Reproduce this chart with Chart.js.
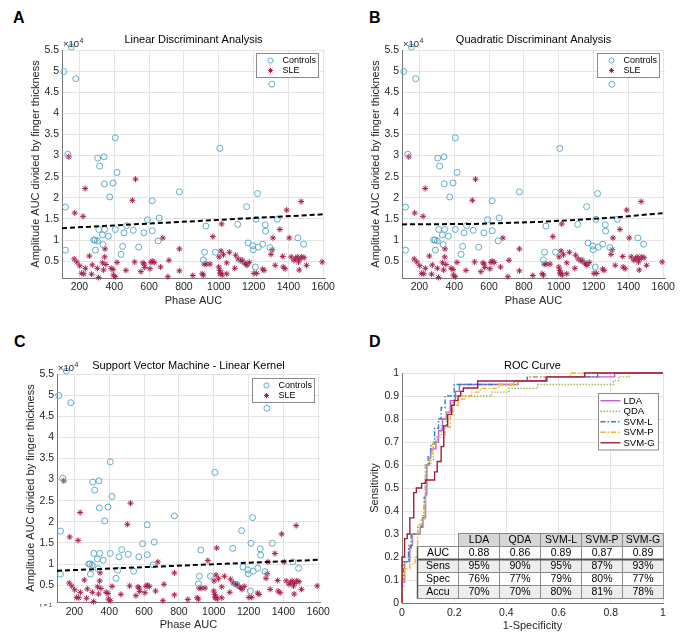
<!DOCTYPE html>
<html>
<head>
<meta charset="utf-8">
<script src="https://cdn.jsdelivr.net/npm/chart.js@4.4.1/dist/chart.umd.min.js"></script>
<style>
  body { margin: 0; width: 681px; height: 634px; position: relative; overflow: hidden; background: #fff; }
  canvas { position: absolute; }
  .tag { position: absolute; font: bold 16px "Liberation Sans", Arial, sans-serif; color: #000; line-height: 16px; }
</style>
</head>
<body>
<div class="tag" style="left:13px;top:10px">A</div>
<div class="tag" style="left:369px;top:10px">B</div>
<div class="tag" style="left:14px;top:334px">C</div>
<div class="tag" style="left:369px;top:334px">D</div>

<canvas id="chartA" width="340" height="315" style="left:0;top:0"></canvas>
<canvas id="chartB" width="341" height="315" style="left:340px;top:0"></canvas>
<canvas id="chartC" width="340" height="319" style="left:0;top:315px"></canvas>
<canvas id="chartD" width="341" height="319" style="left:340px;top:315px"></canvas>

<script>
/* ---------- scatter panels (A, B, C): same subjects, three classifiers ---------- */
const X_TICKS = [200, 400, 600, 800, 1000, 1200, 1400, 1600];
const X_TICK_LABELS = ["200", "400", "600", "800", "1000", "1200", "1400", "1600"];
const Y_TICKS = [0.5, 1, 1.5, 2, 2.5, 3, 3.5, 4, 4.5, 5, 5.5];
const Y_TICK_LABELS = ["0.5", "1", "1.5", "2", "2.5", "3", "3.5", "4", "4.5", "5", "5.5"];

// amplitude values are in units of 10^4
const CONTROLS_PHASE = [
  154, 110, 179, 1305, 406, 1006, 133, 305, 341, 316,
  416, 343, 393, 374, 120, 618, 774, 658, 591, 471,
  311, 345, 406, 332, 366, 456, 509, 570, 618, 652,
  282, 290, 303, 336, 120, 292, 448, 540, 439, 1223,
  1160, 926, 1109, 1214, 1267, 1269, 1336, 1454, 1487, 1168,
  1195, 1198, 1227, 1252, 1294, 918, 912, 981, 1132, 1210
];
const CONTROLS_AMP = [
  5.57, 4.99, 4.82, 4.69, 3.42, 3.17, 3.03, 2.94, 2.97, 2.75,
  2.60, 2.33, 2.35, 2.02, 1.78, 1.93, 2.14, 1.52, 1.48, 1.34,
  1.25, 1.25, 1.25, 1.12, 1.09, 1.17, 1.23, 1.17, 1.22, 0.98,
  1.00, 1.00, 0.98, 0.89, 0.76, 0.76, 0.85, 0.83, 0.66, 2.10,
  1.79, 1.33, 1.37, 1.49, 1.36, 1.21, 1.49, 1.05, 0.90, 0.93,
  0.86, 0.77, 0.83, 0.90, 0.82, 0.71, 0.53, 0.71, 0.52, 0.36
];
const SLE_PHASE = [
  139, 522, 233, 504, 173, 221, 679, 774, 347, 1473,
  1390, 1017, 966, 1351, 1405, 1311, 1300, 1307, 170, 185,
  257, 345, 333, 274, 202, 303, 382, 234, 339, 416,
  517, 565, 572, 611, 618, 666, 714, 774, 467, 213,
  270, 395, 406, 310, 553, 605, 708, 851, 352, 225,
  393, 575, 630, 905, 912, 916, 927, 950, 1000, 1005,
  1012, 1020, 1008, 1013, 1002, 1027, 1061, 1046, 1046, 1092,
  1097, 1112, 1125, 1135, 1148, 1155, 1162, 1175, 1202, 1218,
  1252, 1260, 1324, 1367, 1370, 1381, 1416, 1432, 1440, 1450,
  1458, 1465, 1476, 1490, 1462, 1504, 1594
];
const SLE_AMP = [
  2.97, 2.44, 2.22, 1.94, 1.64, 1.56, 1.05, 0.79, 0.79, 1.91,
  1.71, 1.38, 1.08, 1.25, 1.05, 1.05, 0.66, 0.77, 0.55, 0.48,
  0.62, 0.60, 0.46, 0.41, 0.39, 0.33, 0.33, 0.33, 0.29, 0.47,
  0.48, 0.46, 0.43, 0.47, 0.50, 0.36, 0.52, 0.27, 0.28, 0.21,
  0.19, 0.17, 0.13, 0.11, 0.25, 0.32, 0.13, 0.16, 0.42, 0.20,
  0.30, 0.35, 0.47, 0.20, 0.17, 0.43, 0.43, 0.43, 0.36, 0.28,
  0.22, 0.17, 0.20, 0.74, 0.60, 0.65, 0.71, 0.46, 0.20, 0.33,
  0.64, 0.55, 0.52, 0.50, 0.46, 0.43, 0.40, 0.47, 0.21, 0.21,
  0.31, 0.28, 0.40, 0.61, 0.36, 0.32, 0.60, 0.52, 0.55, 0.60,
  0.48, 0.55, 0.60, 0.58, 0.29, 0.40, 0.48
];

// decision boundaries
const LDA_LINE_PHASE = [100, 1610];
const LDA_LINE_AMP = [1.28, 1.61];
const QDA_LINE_PHASE = [100, 500, 900, 1280, 1610];
const QDA_LINE_AMP = [1.37, 1.38, 1.43, 1.52, 1.64];
const SVM_LINE_PHASE = [100, 1610];
const SVM_LINE_AMP = [0.84, 1.10];

/* ---------- ROC panel (D) ---------- */
const ROC_TICKS_X = [0, 0.2, 0.4, 0.6, 0.8, 1];
const ROC_TICK_LABELS_X = ["0", "0.2", "0.4", "0.6", "0.8", "1"];
const ROC_TICKS_Y = [0, 0.1, 0.2, 0.3, 0.4, 0.5, 0.6, 0.7, 0.8, 0.9, 1];
const ROC_TICK_LABELS_Y = ["0", "0.1", "0.2", "0.3", "0.4", "0.5", "0.6", "0.7", "0.8", "0.9", "1"];

// corner after each rise of the step curve (1-specificity, sensitivity)
const LDA_FPR = [0, 0, 0.01, 0.03, 0.04, 0.07, 0.08, 0.09, 0.095, 0.105, 0.11, 0.13, 0.14, 0.155, 0.17, 0.185, 0.205, 0.22, 0.445, 0.55, 0.815, 1];
const LDA_TPR = [0, 0.09, 0.18, 0.25, 0.30, 0.33, 0.37, 0.47, 0.60, 0.63, 0.67, 0.70, 0.75, 0.80, 0.83, 0.88, 0.92, 0.95, 0.967, 0.983, 1, 1];
const QDA_FPR = [0, 0, 0.01, 0.025, 0.04, 0.07, 0.08, 0.09, 0.095, 0.11, 0.12, 0.135, 0.15, 0.17, 0.19, 0.2, 0.343, 0.41, 0.52, 0.81, 0.83, 0.87, 1];
const QDA_TPR = [0, 0.10, 0.18, 0.25, 0.30, 0.33, 0.38, 0.50, 0.60, 0.62, 0.70, 0.73, 0.77, 0.83, 0.87, 0.90, 0.917, 0.933, 0.95, 0.967, 0.983, 1, 1];
const SVML_FPR = [0, 0, 0.005, 0.025, 0.035, 0.06, 0.075, 0.085, 0.09, 0.1, 0.11, 0.125, 0.14, 0.15, 0.165, 0.2, 0.43, 0.48, 0.75, 1];
const SVML_TPR = [0, 0.10, 0.18, 0.24, 0.30, 0.33, 0.37, 0.46, 0.60, 0.64, 0.69, 0.76, 0.80, 0.85, 0.90, 0.95, 0.967, 0.983, 1, 1];
const SVMP_FPR = [0, 0, 0.005, 0.01, 0.03, 0.05, 0.06, 0.075, 0.085, 0.09, 0.105, 0.115, 0.13, 0.165, 0.185, 0.195, 0.215, 0.24, 0.265, 0.3, 0.37, 0.445, 0.49, 0.645, 1];
const SVMP_TPR = [0, 0.07, 0.10, 0.15, 0.17, 0.20, 0.34, 0.36, 0.43, 0.60, 0.64, 0.69, 0.72, 0.765, 0.82, 0.86, 0.887, 0.90, 0.917, 0.933, 0.95, 0.967, 0.983, 1, 1];
const SVMG_FPR = [0, 0, 0.01, 0.02, 0.03, 0.045, 0.055, 0.075, 0.09, 0.125, 0.135, 0.15, 0.16, 0.175, 0.19, 0.2, 0.215, 0.225, 0.235, 0.29, 0.555, 0.7, 1];
const SVMG_TPR = [0, 0.20, 0.28, 0.30, 0.37, 0.48, 0.50, 0.52, 0.535, 0.57, 0.615, 0.68, 0.77, 0.82, 0.86, 0.88, 0.90, 0.92, 0.935, 0.965, 0.983, 1, 1];

const TABLE_COLS = ["LDA", "QDA", "SVM-L", "SVM-P", "SVM-G"];
const TABLE_ROWS = ["AUC", "Sens", "Spec", "Accu"];
const AUC_VALUES = ["0.88", "0.86", "0.89", "0.87", "0.89"];
const SENS_VALUES = ["95%", "90%", "95%", "87%", "93%"];
const SPEC_VALUES = ["76%", "77%", "79%", "80%", "77%"];
const ACCU_VALUES = ["70%", "70%", "80%", "81%", "78%"];

/* ---------- helpers & plugins ---------- */
const FONT = '"Liberation Sans", Arial, sans-serif';
const pts = (xs, ys) => xs.map((x, i) => ({ x, y: ys[i] }));

// MATLAB style legend box inside the axes
const boxLegend = {
  id: "boxLegend",
  afterDraw(chart, args, o) {
    if (!o || !o.display) return;
    const { ctx, chartArea } = chart;
    const items = chart.data.datasets.filter((d) => d.inLegend);
    const h = o.pad * 2 + items.length * o.rowHeight;
    const x0 = Math.round(chartArea.right - o.right - o.width) + 0.5;
    const y0 = Math.round(chartArea.top + o.top) + 0.5;
    ctx.save();
    ctx.fillStyle = "#fff";
    ctx.strokeStyle = "#8a8a8a";
    ctx.lineWidth = 1;
    ctx.fillRect(x0, y0, o.width, h);
    ctx.strokeRect(x0, y0, o.width, h);
    ctx.font = o.font;
    ctx.textBaseline = "middle";
    items.forEach((d, i) => {
      const cy = y0 + o.pad + (i + 0.5) * o.rowHeight;
      ctx.save();
      ctx.strokeStyle = d.borderColor;
      ctx.fillStyle = d.backgroundColor || "rgba(0,0,0,0)";
      ctx.lineWidth = d.borderWidth;
      if (o.kind === "line") {
        ctx.setLineDash(d.borderDash || []);
        ctx.beginPath();
        ctx.moveTo(x0 + o.sampleFrom, cy);
        ctx.lineTo(x0 + o.sampleTo, cy);
        ctx.stroke();
      } else {
        Chart.helpers.drawPoint(ctx, { pointStyle: d.pointStyle, radius: d.pointRadius * 0.85, borderWidth: d.borderWidth, rotation: 0 }, x0 + o.markerX, cy);
      }
      ctx.restore();
      ctx.fillStyle = "#000";
      ctx.fillText(d.label, x0 + o.textX, cy + 0.5);
    });
    ctx.restore();
  },
};

// "x10^4" exponent above the y axis, plus the small footnote of panel C
const axisNotes = {
  id: "axisNotes",
  afterDraw(chart, args, o) {
    if (!o || !o.exponent) return;
    const { ctx, chartArea } = chart;
    ctx.save();
    ctx.fillStyle = "#262626";
    ctx.textAlign = "left";
    ctx.textBaseline = "alphabetic";
    const bx = chartArea.left + 1;
    const by = chartArea.top - 3;
    ctx.font = `9.5px ${FONT}`;
    ctx.fillText("\u00d710", bx, by);
    const w = ctx.measureText("\u00d710").width;
    ctx.font = `7px ${FONT}`;
    ctx.fillText(o.exponent, bx + w + 0.5, by - 4);
    if (o.footnote) {
      ctx.font = `6px ${FONT}`;
      ctx.fillText(o.footnote, chartArea.left - 17, chartArea.bottom + 5);
    }
    ctx.restore();
  },
};

// performance table placed in axis units of the ROC plot
const rocTable = {
  id: "rocTable",
  afterDatasetsDraw(chart, args, o) {
    if (!o || !o.display) return;
    const { ctx } = chart;
    const sx = chart.scales.x, sy = chart.scales.y;
    const xl = Math.round(sx.getPixelForValue(o.labelLeft)) + 0.5;
    const xc = Math.round(sx.getPixelForValue(o.colLeft)) + 0.5;
    const xr = Math.round(sx.getPixelForValue(o.right)) + 0.5;
    const ry = o.rowEdges.map((v) => Math.round(sy.getPixelForValue(v)) + 0.5);
    const colW = (xr - xc) / TABLE_COLS.length;
    const cx = (i) => Math.round(xc + i * colW - 0.5) + 0.5;
    const body = [AUC_VALUES, SENS_VALUES, SPEC_VALUES, ACCU_VALUES];

    ctx.save();
    ctx.font = `10.5px ${FONT}`;
    ctx.textAlign = "center";
    ctx.textBaseline = "middle";
    ctx.lineWidth = 1;

    // header
    TABLE_COLS.forEach((name, i) => {
      ctx.fillStyle = "#d6d6d6";
      ctx.fillRect(cx(i), ry[0], cx(i + 1) - cx(i), ry[1] - ry[0]);
      ctx.strokeStyle = "#8c8c8c";
      ctx.strokeRect(cx(i), ry[0], cx(i + 1) - cx(i), ry[1] - ry[0]);
      ctx.fillStyle = "#000";
      ctx.fillText(name, (cx(i) + cx(i + 1)) / 2, (ry[0] + ry[1]) / 2 + 0.5);
    });

    // body rows
    TABLE_ROWS.forEach((label, r) => {
      const top = ry[r + 1], bot = ry[r + 2];
      ctx.fillStyle = r % 2 ? "#ededed" : "#ffffff";
      ctx.fillRect(xl, top, xr - xl, bot - top);
      ctx.strokeStyle = "#8c8c8c";
      ctx.strokeRect(xl, top, xc - xl, bot - top);
      for (let i = 0; i < TABLE_COLS.length; i++) ctx.strokeRect(cx(i), top, cx(i + 1) - cx(i), bot - top);
      ctx.fillStyle = "#000";
      ctx.fillText(label, (xl + xc) / 2, (top + bot) / 2 + 0.5);
      body[r].forEach((val, i) => ctx.fillText(val, (cx(i) + cx(i + 1)) / 2, (top + bot) / 2 + 0.5));
    });

    // darker rules
    ctx.strokeStyle = "#555";
    ctx.lineWidth = 2;
    ctx.beginPath();
    ctx.moveTo(xl, ry[2]);
    ctx.lineTo(xr, ry[2]);
    ctx.stroke();
    ctx.lineWidth = 1.5;
    ctx.beginPath();
    ctx.moveTo(xl, ry[1]);
    ctx.lineTo(xl, ry[ry.length - 1]);
    ctx.stroke();
    ctx.restore();
  },
};

Chart.register(boxLegend, axisNotes, rocTable);

function axis(L, ticks, labels, min, max, title, horizontal) {
  return {
    type: "linear",
    min,
    max,
    afterFit: (s) => { if (horizontal) s.height = L.xHeight; else s.width = L.yWidth; },
    afterBuildTicks: (s) => { s.ticks = ticks.map((value) => ({ value })); },
    ticks: {
      autoSkip: false,
      maxRotation: 0,
      padding: horizontal ? L.tickPadX : 3,
      color: "#262626",
      font: { family: FONT, size: 10.5 },
      callback: (v, i) => labels[i],
    },
    grid: { color: "#e4e4e4", lineWidth: 1, drawTicks: false },
    border: { display: true, color: "#7a7a7a", width: 1 },
    title: {
      display: true,
      text: title,
      color: "#262626",
      font: { family: FONT, size: 11 },
      padding: horizontal ? { top: 0, bottom: L.xTitlePad } : { top: L.yTitlePad, bottom: 0 },
    },
  };
}

function baseOptions(L, title) {
  return {
    responsive: false,
    animation: false,
    events: [],
    layout: { padding: { left: L.padLeft, right: L.padRight, top: 0, bottom: 0 } },
    plugins: {
      legend: { display: false },
      tooltip: { enabled: false },
      title: {
        display: true,
        fullSize: false, // centre over the axes, as MATLAB does
        text: title,
        color: "#000",
        font: { family: FONT, size: 11, weight: "normal" },
        padding: { top: L.titleTop, bottom: L.titleBottom },
      },
    },
  };
}

function scatterPanel(id, title, linePhase, lineAmp, L, legendInset, footnote) {
  const opts = baseOptions(L, title);
  opts.plugins.boxLegend = {
    display: true, kind: "marker", right: legendInset.right, top: legendInset.top,
    width: 62, pad: 2, rowHeight: 10, markerX: 14, textX: 26, font: `9px ${FONT}`,
  };
  opts.plugins.axisNotes = { exponent: "4", footnote };
  opts.scales = {
    x: axis(L, X_TICKS, X_TICK_LABELS, 100, 1610, "Phase AUC", true),
    y: axis(L, Y_TICKS, Y_TICK_LABELS, 0.1, 5.5, "Amplitude AUC divided by finger thickness", false),
  };
  return new Chart(document.getElementById(id), {
    type: "scatter",
    data: {
      datasets: [
        {
          label: "boundary", data: pts(linePhase, lineAmp), showLine: true,
          borderColor: "#000", borderWidth: 2, borderDash: [5, 3], pointRadius: 0, clip: false,
        },
        {
          label: "Controls", inLegend: true, data: pts(CONTROLS_PHASE, CONTROLS_AMP),
          pointStyle: "circle", pointRadius: 3, borderColor: "#5eaccb", backgroundColor: "rgba(0,0,0,0)",
          borderWidth: 1, clip: false,
        },
        {
          label: "SLE", inLegend: true, data: pts(SLE_PHASE, SLE_AMP),
          pointStyle: "star", pointRadius: 3, borderColor: "#a7224b", backgroundColor: "#a7224b",
          borderWidth: 1, clip: false,
        },
      ],
    },
    options: opts,
  });
}

/* ---------- build ---------- */
const LAYOUT_TOP = { padLeft: 22, padRight: 15, yWidth: 40, xHeight: 37, titleTop: 33.4, titleBottom: 3.4, tickPadX: 3, xTitlePad: 7.7, yTitlePad: 7.4 };

scatterPanel("chartA", "Linear Discriminant Analysis", LDA_LINE_PHASE, LDA_LINE_AMP,
  LAYOUT_TOP, { right: 7, top: 3 });
scatterPanel("chartB", "Quadratic Discriminant Analysis", QDA_LINE_PHASE, QDA_LINE_AMP,
  Object.assign({}, LAYOUT_TOP, { padRight: 16 }), { right: 6, top: 3 });
scatterPanel("chartC", "Support Vector Machine - Linear Kernel", SVM_LINE_PHASE, SVM_LINE_AMP,
  { padLeft: 17, padRight: 20, yWidth: 40, xHeight: 32, titleTop: 44.4, titleBottom: 1.4, tickPadX: 3.7, xTitlePad: 2.4, yTitlePad: 7.4 },
  { right: 6, top: 4 }, "r = 1");

(function buildRoc() {
  const L = { padLeft: 22, padRight: 18, yWidth: 40, xHeight: 31, titleTop: 44.8, titleBottom: 0, tickPadX: 3.7, xTitlePad: 1.4, yTitlePad: 6.4 };
  const opts = baseOptions(L, "ROC Curve");
  opts.plugins.boxLegend = {
    display: true, kind: "line", right: 5, top: 20, width: 60, pad: 2, rowHeight: 10.5,
    sampleFrom: 2, sampleTo: 22, textX: 25, font: `9.5px ${FONT}`,
  };
  opts.plugins.rocTable = {
    display: true, labelLeft: 0.0575, colLeft: 0.2146, right: 1,
    rowEdges: [0.304, 0.248, 0.191, 0.135, 0.077, 0.022],
  };
  opts.scales = {
    x: axis(L, ROC_TICKS_X, ROC_TICK_LABELS_X, 0, 1, "1-Specificity", true),
    y: axis(L, ROC_TICKS_Y, ROC_TICK_LABELS_Y, 0, 1, "Sensitivity", false),
  };
  const curve = (label, fpr, tpr, color, dash, order) => ({
    label, inLegend: true, data: pts(fpr, tpr), showLine: true, stepped: true,
    borderColor: color, borderWidth: 1.4, borderDash: dash, pointRadius: 0, clip: false, order,
  });
  new Chart(document.getElementById("chartD"), {
    type: "scatter",
    data: {
      datasets: [
        curve("LDA", LDA_FPR, LDA_TPR, "#c45ad8", [], 5),
        curve("QDA", QDA_FPR, QDA_TPR, "#9dbb5c", [1.5, 1.5], 4),
        curve("SVM-L", SVML_FPR, SVML_TPR, "#2a83c6", [5, 2, 1.5, 2], 3),
        curve("SVM-P", SVMP_FPR, SVMP_TPR, "#f2b232", [5, 2, 1.5, 2], 2),
        curve("SVM-G", SVMG_FPR, SVMG_TPR, "#a31d3b", [], 1),
      ],
    },
    options: opts,
  });
})();
</script>
</body>
</html>
